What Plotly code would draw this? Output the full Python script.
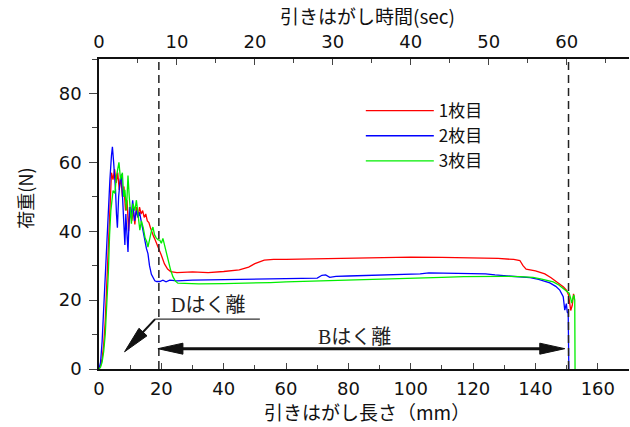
import plotly.graph_objects as go

# ---------------- data ----------------
red_x = [0, 0.5, 1, 1.5, 2, 2.5, 3, 3.5, 4, 4.5, 5, 5.5, 6, 6.5, 7, 7.5, 8, 8.5, 9, 9.5,
         10, 10.5, 11, 11.5, 12, 12.5, 13, 13.5, 14, 14.5, 15, 15.5, 16, 16.5, 17, 17.5,
         18, 18.5, 19, 19.5, 20, 21, 22, 23, 25, 30, 35, 40, 45, 48, 50, 53, 56, 60, 70,
         80, 90, 100, 110, 120, 128, 133, 135, 136, 137, 140, 143, 145, 147, 149, 150,
         150.6, 151, 151.3, 151.8, 152.2, 152.5]
red_y = [0, 1, 3, 7, 14, 25, 38, 50, 57, 55, 58, 54, 57, 52, 56, 50, 53, 46, 49, 40,
         47, 43, 46, 42, 47, 44, 47, 45, 46, 44, 45, 43, 42.5, 41, 39.5, 38.5,
         37.5, 36.5, 35.5, 34, 33, 30.5, 29, 28.3, 28, 28.2, 28, 28.3, 28.8, 29.6, 30.6, 31.6, 31.8, 31.8, 32,
         32.2, 32.4, 32.5, 32.4, 32.3, 32.1, 31.8, 31.5, 30, 29, 28.5, 27.6, 26.5, 25.2, 23.8, 22.8,
         21.5, 19, 17, 18.5, 21.8, 20.5]

blue_x = [0, 0.5, 1, 1.5, 2, 2.5, 3, 3.5, 4, 4.3, 4.7, 5, 5.3, 5.6, 5.9, 6.3, 6.8, 7.2, 7.6, 8,
          8.3, 8.6, 9, 9.3, 9.8, 10.3, 10.8, 11.4, 12, 12.5, 13, 13.5, 14.1, 14.6, 15.2, 15.7,
          16.2, 16.8, 17.4, 17.9, 18.5, 19.5, 20.5, 21.5, 22.7, 25, 30, 35, 40, 45, 50, 55, 60,
          65, 70, 71.5, 72.7, 74, 76, 80, 85, 91.7, 95, 100, 103, 105.8, 110, 115, 120, 124,
          127, 130, 134, 138.3, 141, 144.6, 146.5, 147.8, 148.9, 149.4, 149.9, 150.2, 150.5,
          150.6, 150.7]
blue_y = [0, 2, 8, 18, 28, 38, 47, 55, 62, 64.5, 60, 57, 52, 45, 41, 50, 55, 56.5, 48, 42,
          36, 45, 40, 34, 47, 44, 49, 43, 46, 44, 45.5, 43, 40, 38, 35, 33.5,
          30, 27.5, 26.3, 25.6, 25.4, 25.4, 25.8, 25.3, 25.8, 25.6, 25.8, 25.9, 26, 26, 26.1, 26.1, 26.2,
          26.3, 26.4, 27.2, 27.3, 26.6, 26.9, 27, 27.1, 27.3, 27.3, 27.4, 27.6, 27.9, 27.8, 27.6, 27.6, 27.6,
          27.3, 27.1, 26.8, 26.5, 26, 25, 24, 22.9, 21, 17.1, 19, 16.5, 16.2,
          8, 0]

green_x = [0, 0.5, 1, 1.5, 2, 2.5, 3, 3.4, 3.8, 4.5, 5.1, 5.6, 6.1, 6.4, 6.9, 7.5, 7.9, 8.3,
           8.8, 9.3, 9.7, 10.1, 10.4, 10.9, 11.5, 12, 12.5, 13.1, 13.6, 14.2, 14.8, 15.3, 15.7,
           16.2, 16.8, 17.3, 17.8, 18.4, 19, 19.5, 20, 20.5, 21, 21.5, 22.1, 22.9, 23.7, 24.5,
           25.3, 28, 32, 40, 48.3, 55, 60, 70, 80, 90, 102.6, 110, 117, 124.2, 130, 135, 139.2,
           142, 145.7, 147.5, 149.4, 150.8, 151.3, 151.6, 152, 152.3, 152.6, 152.7]
green_y = [0, 0.5, 2, 5, 10, 18, 28, 39, 46, 51.8, 51, 56, 58, 60, 55, 57, 50, 52,
           46, 56.2, 50, 45, 42.2, 48, 46, 49, 44, 40.3, 43, 41, 38, 37, 35.4,
           38, 40, 41.2, 39, 38, 37.5, 37.4, 36.5, 37.9, 36, 34, 31.6, 29, 26.8, 25.5,
           24.9, 24.8, 24.7, 24.8, 24.9, 25.1, 25.3, 25.6, 25.9, 26.1, 26.4, 26.6, 26.8, 26.9, 26.9, 26.8, 26.6,
           26.1, 25.3, 24.4, 23.1, 22, 20.5, 19.1, 20.5, 21.5, 20, 0]

series_names = ["1枚目", "2枚目", "3枚目"]
series_colors = ["#ff0000", "#0000ff", "#00ee00"]

x_ticks = [0, 20, 40, 60, 80, 100, 120, 140, 160]
y_ticks = [0, 20, 40, 60, 80]
time_ticks = [0, 10, 20, 30, 40, 50, 60]
speed_mm_per_s = 2.5
d_line_x = 19.2
end_line_x = 150.6

# ---------------- layout geometry ----------------
W, H = 630, 427
ML, MR, MT, MB = 99, 1, 59, 58
PW, PH = W - ML - MR, H - MT - MB
XR = [0, 170]
YR = [0, 90]


def dxp(px):
    return px * (XR[1] - XR[0]) / PW


def dyp(px):
    return px * (YR[1] - YR[0]) / PH


def head_path(tx, ty, ux, uy, length, half):
    # tip in data coords, direction (ux,uy) in screen pixels (y up)
    bx, by = -ux * length, -uy * length
    px_, py_ = -uy * half, ux * half
    p1 = (tx + dxp(bx + px_), ty + dyp(by + py_))
    p2 = (tx + dxp(bx - px_), ty + dyp(by - py_))
    return f"M{tx},{ty} L{p1[0]},{p1[1]} L{p2[0]},{p2[1]} Z"


fig = go.Figure()
for xs, ys, nm, col in zip([red_x, blue_x, green_x], [red_y, blue_y, green_y],
                           series_names, series_colors):
    fig.add_trace(go.Scatter(x=xs, y=ys, mode="lines", name=nm,
                             line=dict(color=col, width=1.3)))

# helper (empty) trace so the top time axis exists
fig.add_trace(go.Scatter(x=[], y=[], xaxis="x2", showlegend=False, hoverinfo="skip"))

tick_font = dict(family="DejaVu Sans, Liberation Sans, Arial", size=18, color="#111")
cjk = "Noto Sans CJK JP"

shapes = []
for xv in (d_line_x, end_line_x):
    shapes.append(dict(type="line", xref="x", yref="y", x0=xv, x1=xv, y0=0, y1=YR[1],
                       line=dict(color="#222", width=1.5, dash="8px,5px")))

# D peeling: underline + diagonal arrow
d_y = 14.5
d_x0, d_x1 = 18.0, 51.6
shapes.append(dict(type="line", xref="x", yref="y", x0=d_x0, x1=d_x1, y0=d_y, y1=d_y,
                   line=dict(color="#333", width=1.3)))
tip_x, tip_y = 8.2, 5.0
vx = (tip_x - d_x0) / dxp(1)
vy = (tip_y - d_y) / dyp(1)
ln = (vx ** 2 + vy ** 2) ** 0.5
ux, uy = vx / ln, vy / ln
hl = 27
shapes.append(dict(type="line", xref="x", yref="y", x0=d_x0, y0=d_y,
                   x1=tip_x - dxp(ux * (hl - 2)), y1=tip_y - dyp(uy * (hl - 2)),
                   line=dict(color="#111", width=2)))
shapes.append(dict(type="path", xref="x", yref="y",
                   path=head_path(tip_x, tip_y, ux, uy, hl, 5.5),
                   fillcolor="#111", line=dict(color="#111", width=1)))

# B peeling: double arrow
b_y = 5.9
b_l, b_r = 18.9, 149.4
bl = 25
shapes.append(dict(type="line", xref="x", yref="y", x0=b_l + dxp(bl - 2), x1=b_r - dxp(bl - 2),
                   y0=b_y, y1=b_y, line=dict(color="#111", width=3)))
shapes.append(dict(type="path", xref="x", yref="y", path=head_path(b_r, b_y, 1, 0, bl, 5.5),
                   fillcolor="#111", line=dict(color="#111", width=1)))
shapes.append(dict(type="path", xref="x", yref="y", path=head_path(b_l, b_y, -1, 0, bl, 5.5),
                   fillcolor="#111", line=dict(color="#111", width=1)))

title_font = dict(family=cjk, size=19, color="#111")
annotations = [
    dict(text="Dはく離", x=34.9, y=18.6, xref="x", yref="y", showarrow=False,
         font=dict(family="Liberation Serif, " + cjk, size=20, color="#222")),
    dict(text="Bはく離", x=82, y=9.2, xref="x", yref="y", showarrow=False,
         font=dict(family="Liberation Serif, " + cjk, size=20, color="#222")),
    dict(text="荷重(N)", x=-0.14, y=0.552, xref="paper", yref="paper", showarrow=False,
         xanchor="center", yanchor="middle",
         textangle=-90, font=dict(family=cjk, size=18, color="#111")),
    dict(text="引きはがし長さ（mm）", x=0.506, y=-0.137, xref="paper", yref="paper",
         xanchor="center", yanchor="middle", showarrow=False, font=title_font),
    dict(text="引きはがし時間(sec)", x=0.506, y=1.139, xref="paper", yref="paper",
         xanchor="center", yanchor="middle", showarrow=False, font=title_font),
]

fig.update_layout(
    width=W, height=H,
    margin=dict(l=ML, r=MR, t=MT, b=MB, autoexpand=False),
    paper_bgcolor="white", plot_bgcolor="white",
    showlegend=True,
    legend=dict(x=0.494, y=0.89, xanchor="left", yanchor="top",
                bgcolor="rgba(0,0,0,0)", borderwidth=0,
                font=dict(family=cjk, size=17, color="#111"),
                itemwidth=68, tracegroupgap=0),
    shapes=shapes,
    annotations=annotations,
    xaxis=dict(range=XR, tickvals=x_ticks, ticks="inside", ticklen=6, tickwidth=1.3,
               minor=dict(dtick=10, ticks="inside", ticklen=4, tickwidth=1.1),
               showline=True, linecolor="#111", linewidth=1.5, showgrid=False, zeroline=False,
               tickfont=tick_font, ticklabelstandoff=3, automargin=False),
    xaxis2=dict(range=[XR[0] / speed_mm_per_s, XR[1] / speed_mm_per_s], overlaying="x",
                side="top", anchor="y", tickvals=time_ticks, ticks="inside", ticklen=6,
                tickwidth=1.3, minor=dict(dtick=5, ticks="inside", ticklen=4, tickwidth=1.1),
                showline=True, linecolor="#111", linewidth=1.5, showgrid=False, zeroline=False,
                tickfont=tick_font, ticklabelstandoff=2, automargin=False),
    yaxis=dict(range=YR, tickvals=y_ticks, ticks="outside", ticklen=8, tickwidth=1.3,
               minor=dict(dtick=10, ticks="outside", ticklen=5, tickwidth=1.1),
               showline=True, linecolor="#111", linewidth=1.5, showgrid=False, zeroline=False,
               tickfont=tick_font, ticklabelstandoff=4, automargin=False),
)

fig.write_html("out.html", post_script="document.body.style.margin='0';",
               config={"displayModeBar": False})
